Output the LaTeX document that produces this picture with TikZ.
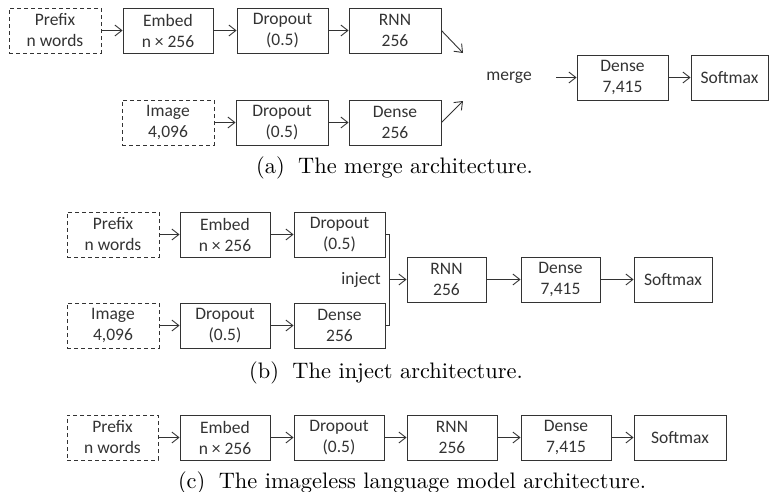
\documentclass[tikz,border=0pt]{standalone}
\usepackage{fontspec}
\newfontfamily\boxfont{Carlito}
\newfontfamily\capfont{lmroman10-regular}[Extension=.otf]
\usetikzlibrary{arrows.meta}
\definecolor{ink}{HTML}{333333}
\begin{document}
\begin{tikzpicture}[x=1pt,y=-1pt,
  box/.style={draw=ink, line width=0.9pt, minimum height=45pt, inner sep=0pt,
    align=center, font=\boxfont\fontsize{17.5}{21}\selectfont, text=ink},
  inbox/.style={box, dash pattern=on 4pt off 3pt},
  conn/.style={draw=ink, line width=0.9pt, -{Straight Barb[length=7pt,width=11pt]}},
  plain/.style={draw=ink, line width=0.9pt},
  lbl/.style={font=\boxfont\fontsize{17.5}{21}\selectfont, text=ink, inner sep=0pt},
  captxt/.style={font=\capfont\fontsize{22.4}{27}\selectfont, inner sep=0pt, anchor=base}]
\useasboundingbox (0,0) rectangle (772,491);

% ---------- (a) merge ----------
\node[inbox, minimum width=92pt] (pa) at (55,30.5) {Prefix\\n words};
\node[box, minimum width=90pt] (ea) at (168,30.5) {Embed\\n × 256};
\node[box, minimum width=91pt] (da) at (282.5,30.5) {Dropout\\(0.5)};
\node[box, minimum width=92pt] (ra) at (395,30.5) {RNN\\256};
\node[inbox, minimum width=92pt] (ia) at (168,122.5) {Image\\4,096};
\node[box, minimum width=92pt] (d2a) at (282,122.5) {Dropout\\(0.5)};
\node[box, minimum width=92pt] (dna) at (395,122.5) {Dense\\256};
\node[lbl] (mg) at (509,77.5) {merge};
\node[box, minimum width=91pt] (dsa) at (622.5,77.5) {Dense\\7,415};
\node[box, minimum width=77pt] (sa) at (729.5,77.5) {Softmax};
\coordinate (ta) at (463,53);
\coordinate (ba) at (463,101);
\coordinate (ma) at (556,77.5);
\draw[conn] (pa) -- (ea);
\draw[conn] (ea) -- (da);
\draw[conn] (da) -- (ra);
\draw[conn] (ia) -- (d2a);
\draw[conn] (d2a) -- (dna);
\draw[conn] (ra.east) -- (ta);
\draw[conn] (dna.east) -- (ba);
\draw[conn] (ma) -- (dsa);
\draw[conn] (dsa) -- (sa);
\node[captxt] (capa) at (394.5,173.5) {(a)\hspace{0.6em}The merge architecture.};

% ---------- (b) inject ----------
\node[inbox, minimum width=92pt] (pb) at (113,234.5) {Prefix\\n words};
\node[box, minimum width=90pt] (eb) at (225,234.5) {Embed\\n × 256};
\node[box, minimum width=91pt] (db) at (339.5,234.5) {Dropout\\(0.5)};
\node[inbox, minimum width=92pt] (ib) at (113,325.5) {Image\\4,096};
\node[box, minimum width=90pt] (d2b) at (225,325.5) {Dropout\\(0.5)};
\node[box, minimum width=91pt] (dnb) at (339.5,325.5) {Dense\\256};
\coordinate (bt) at (389,234.5);
\coordinate (bb) at (389,325.5);
\coordinate (bm) at (389,279.5);
\node[lbl, anchor=east] (ij) at (381,279.5) {inject};
\node[box, minimum width=79pt] (rb) at (446.5,279.5) {RNN\\256};
\node[box, minimum width=79pt] (dsb) at (560.5,279.5) {Dense\\7,415};
\node[box, minimum width=78pt] (sb) at (673,279.5) {Softmax};
\draw[conn] (pb) -- (eb);
\draw[conn] (eb) -- (db);
\draw[conn] (ib) -- (d2b);
\draw[conn] (d2b) -- (dnb);
\draw[plain] (db.east) -- (bt) -- (bb) -- (dnb.east);
\draw[conn] (bm) -- (rb);
\draw[conn] (rb) -- (dsb);
\draw[conn] (dsb) -- (sb);
\node[captxt] (capb) at (386,378.5) {(b)\hspace{0.6em}The inject architecture.};

% ---------- (c) imageless ----------
\node[inbox, minimum width=91pt] (pc) at (112.5,437.5) {Prefix\\n words};
\node[box, minimum width=90pt] (ec) at (225,437.5) {Embed\\n × 256};
\node[box, minimum width=90pt] (dc) at (339,437.5) {Dropout\\(0.5)};
\node[box, minimum width=90pt] (rc) at (452,437.5) {RNN\\256};
\node[box, minimum width=90pt] (dsc) at (566,437.5) {Dense\\7,415};
\node[box, minimum width=92pt] (sc) at (680,437.5) {Softmax};
\draw[conn] (pc) -- (ec);
\draw[conn] (ec) -- (dc);
\draw[conn] (dc) -- (rc);
\draw[conn] (rc) -- (dsc);
\draw[conn] (dsc) -- (sc);
\node[captxt] (capc) at (412,488) {(c)\hspace{0.6em}The imageless language model architecture.};
\end{tikzpicture}
\end{document}
